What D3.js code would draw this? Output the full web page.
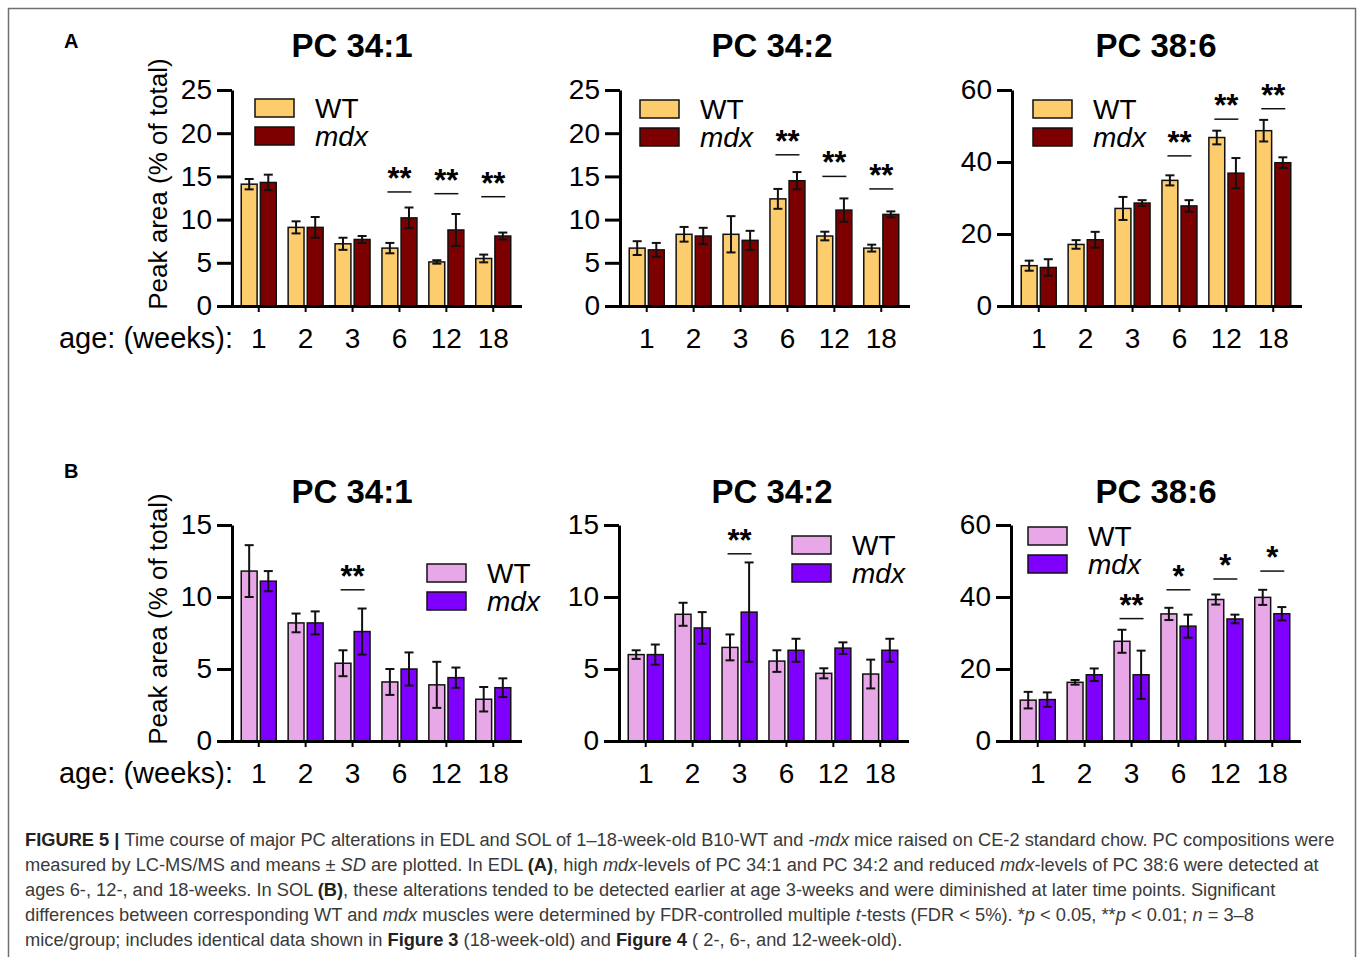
<!DOCTYPE html>
<html>
<head>
<meta charset="utf-8">
<script src="https://cdn.jsdelivr.net/npm/d3@7"></script>
<style>
body { margin: 0; background: #fff; }
svg text { font-family: "Liberation Sans", Arial, Helvetica, sans-serif; }
</style>
</head>
<body>
<svg id="fig" width="1357" height="957"></svg>
<script>
// age groups and genotypes
var ages = ["1", "2", "3", "6", "12", "18"];
var groups = ["WT", "mdx"];

// A: EDL, means and SD (% of total)
var edl341WT = [14.1, 9.1, 7.2, 6.7, 5.1, 5.5];
var edl341WTsd = [0.6, 0.7, 0.7, 0.6, 0.2, 0.45];
var edl341Mdx = [14.3, 9.1, 7.7, 10.2, 8.8, 8.1];
var edl341MdxSd = [0.9, 1.2, 0.4, 1.2, 1.85, 0.4];
var edl341Sig = [["6", "**", 13.2], ["12", "**", 13.0], ["18", "**", 12.65]];

var edl342WT = [6.7, 8.3, 8.3, 12.4, 8.1, 6.7];
var edl342WTsd = [0.8, 0.85, 2.1, 1.15, 0.5, 0.4];
var edl342Mdx = [6.5, 8.1, 7.6, 14.5, 11.1, 10.6];
var edl342MdxSd = [0.8, 0.95, 1.1, 1.0, 1.35, 0.35];
var edl342Sig = [["6", "**", 17.5], ["12", "**", 15.0], ["18", "**", 13.55]];

var edl386WT = [11.2, 17.1, 27.1, 34.9, 46.8, 48.7];
var edl386WTsd = [1.4, 1.2, 3.2, 1.4, 1.9, 3.0];
var edl386Mdx = [10.7, 18.4, 28.6, 27.8, 36.9, 39.8];
var edl386MdxSd = [2.3, 2.2, 0.8, 1.6, 4.2, 1.5];
var edl386Sig = [["6", "**", 41.7], ["12", "**", 51.9], ["18", "**", 54.8]];

// B: SOL
var sol341WT = [11.8, 8.2, 5.4, 4.1, 3.9, 2.9];
var sol341WTsd = [1.8, 0.65, 0.9, 0.9, 1.6, 0.85];
var sol341Mdx = [11.1, 8.2, 7.6, 5.0, 4.4, 3.7];
var sol341MdxSd = [0.7, 0.8, 1.6, 1.15, 0.7, 0.65];
var sol341Sig = [["3", "**", 10.5]];

var sol342WT = [6.0, 8.8, 6.5, 5.55, 4.7, 4.65];
var sol342WTsd = [0.3, 0.8, 0.9, 0.75, 0.35, 1.0];
var sol342Mdx = [6.0, 7.85, 8.95, 6.3, 6.45, 6.3];
var sol342MdxSd = [0.7, 1.1, 3.45, 0.8, 0.4, 0.8];
var sol342Sig = [["3", "**", 13.0]];

var sol386WT = [11.35, 16.3, 27.7, 35.3, 39.3, 39.9];
var sol386WTsd = [2.3, 0.65, 3.2, 1.7, 1.4, 2.1];
var sol386Mdx = [11.5, 18.4, 18.4, 31.9, 33.9, 35.35];
var sol386MdxSd = [2.0, 1.75, 6.7, 3.2, 1.2, 1.85];
var sol386Sig = [["3", "**", 34.0], ["6", "*", 42.0], ["12", "*", 45.0], ["18", "*", 47.2]];

var ticks25 = [0, 5, 10, 15, 20, 25];
var ticks15 = [0, 5, 10, 15];
var ticks60 = [0, 20, 40, 60];

var edlColors = ["#fdcc6c", "#7d0000"];
var solColors = ["#e8a8e8", "#8000ff"];

var width = 288, height = 216;
var svg = d3.select("#fig");

// frame
svg.append("rect")
    .attr("x", 8.5).attr("y", 8.5)
    .attr("width", 1347).attr("height", 980)
    .attr("fill", "none")
    .attr("stroke", "#707070")
    .attr("stroke-width", 1.5);

var panels = [
  {title: "PC 34:1", wt: edl341WT, wtSd: edl341WTsd, mdx: edl341Mdx, mdxSd: edl341MdxSd, sig: edl341Sig,
   yMax: 25, ticks: ticks25, colors: edlColors, left: 232, top: 90, titleX: 120, titleY: -33, legX: 23, legY: 9, first: true},
  {title: "PC 34:2", wt: edl342WT, wtSd: edl342WTsd, mdx: edl342Mdx, mdxSd: edl342MdxSd, sig: edl342Sig,
   yMax: 25, ticks: ticks25, colors: edlColors, left: 620, top: 90, titleX: 152, titleY: -33, legX: 20, legY: 10},
  {title: "PC 38:6", wt: edl386WT, wtSd: edl386WTsd, mdx: edl386Mdx, mdxSd: edl386MdxSd, sig: edl386Sig,
   yMax: 60, ticks: ticks60, colors: edlColors, left: 1012, top: 90, titleX: 144, titleY: -33, legX: 21, legY: 10},
  {title: "PC 34:1", wt: sol341WT, wtSd: sol341WTsd, mdx: sol341Mdx, mdxSd: sol341MdxSd, sig: sol341Sig,
   yMax: 15, ticks: ticks15, colors: solColors, left: 232, top: 525, titleX: 120, titleY: -22, legX: 195, legY: 39, first: true},
  {title: "PC 34:2", wt: sol342WT, wtSd: sol342WTsd, mdx: sol342Mdx, mdxSd: sol342MdxSd, sig: sol342Sig,
   yMax: 15, ticks: ticks15, colors: solColors, left: 619, top: 525, titleX: 153, titleY: -22, legX: 173, legY: 11},
  {title: "PC 38:6", wt: sol386WT, wtSd: sol386WTsd, mdx: sol386Mdx, mdxSd: sol386MdxSd, sig: sol386Sig,
   yMax: 60, ticks: ticks60, colors: solColors, left: 1011, top: 525, titleX: 145, titleY: -22, legX: 17, legY: 2}
];

panels.forEach(drawPanel);

// panel letters
svg.append("text").attr("x", 64).attr("y", 48).text("A")
    .style("font-size", "20px").style("font-weight", "bold");
svg.append("text").attr("x", 64).attr("y", 478).text("B")
    .style("font-size", "20px").style("font-weight", "bold");

function drawPanel(p)
{
  var g = svg.append("g")
      .attr("transform", "translate(" + p.left + "," + p.top + ")");

  var x = d3.scaleBand().domain(ages).range([0, width])
      .paddingInner(0).paddingOuter(0.07);
  var x1 = d3.scaleBand().domain(groups).range([-17.5, 17.5]).paddingInner(0.17);
  var y = d3.scaleLinear().domain([0, p.yMax]).range([height, 0]);
  var color = d3.scaleOrdinal().domain(groups).range(p.colors);

  var rows = [];
  ages.forEach(function(a, i) {
    rows.push({age: a, group: "WT", v: p.wt[i], sd: p.wtSd[i]});
    rows.push({age: a, group: "mdx", v: p.mdx[i], sd: p.mdxSd[i]});
  });

  function cx(d) { return x(d.age) + x.bandwidth() / 2; }

  // title
  g.append("text")
      .attr("x", p.titleX).attr("y", p.titleY)
      .attr("text-anchor", "middle")
      .style("font-size", "33px").style("font-weight", "bold")
      .text(p.title);

  // bars
  g.selectAll(".bar")
      .data(rows)
    .enter().append("rect")
      .attr("class", "bar")
      .attr("x", function(d) { return cx(d) + x1(d.group); })
      .attr("width", x1.bandwidth())
      .attr("y", function(d) { return y(d.v); })
      .attr("height", function(d) { return height - y(d.v); })
      .attr("fill", function(d) { return color(d.group); })
      .attr("stroke", "#111")
      .attr("stroke-width", 1.5);

  // error bars
  var err = g.selectAll(".err")
      .data(rows)
    .enter().append("g")
      .attr("class", "err")
      .attr("transform", function(d) {
        return "translate(" + (cx(d) + x1(d.group) + x1.bandwidth() / 2) + ",0)";
      });
  err.append("line")
      .attr("y1", function(d) { return y(d.v - d.sd); })
      .attr("y2", function(d) { return y(d.v + d.sd); })
      .attr("stroke", "#111").attr("stroke-width", 2);
  err.selectAll(".cap")
      .data(function(d) { return [d.v - d.sd, d.v + d.sd]; })
    .enter().append("line")
      .attr("class", "cap")
      .attr("x1", -4.5).attr("x2", 4.5)
      .attr("y1", function(v) { return y(v); })
      .attr("y2", function(v) { return y(v); })
      .attr("stroke", "#111").attr("stroke-width", 2);

  // y axis
  var yAxis = g.append("g")
      .call(d3.axisLeft(y).tickValues(p.ticks).tickSize(15).tickPadding(5).tickSizeOuter(0));
  yAxis.select(".domain").attr("stroke", "#000").attr("stroke-width", 3);
  yAxis.selectAll(".tick line").attr("stroke", "#000").attr("stroke-width", 3);
  yAxis.selectAll(".tick text").style("font-size", "28px").attr("fill", "#000");

  // x axis
  var xAxis = g.append("g")
      .attr("transform", "translate(0," + height + ")")
      .call(d3.axisBottom(x).tickSize(6).tickPadding(16).tickSizeOuter(0));
  xAxis.select(".domain").attr("stroke", "#000").attr("stroke-width", 3)
      .attr("stroke-linecap", "square");
  xAxis.selectAll(".tick line").attr("stroke", "#000").attr("stroke-width", 2);
  xAxis.selectAll(".tick text").style("font-size", "28px").attr("fill", "#000");

  // significance markers
  var sig = g.selectAll(".sig")
      .data(p.sig)
    .enter().append("g")
      .attr("class", "sig")
      .attr("transform", function(d) {
        return "translate(" + (x(d[0]) + x.bandwidth() / 2) + "," + y(d[2]) + ")";
      });
  sig.append("line")
      .attr("x1", -12).attr("x2", 12)
      .attr("stroke", "#111").attr("stroke-width", 1.5);
  sig.append("text")
      .attr("y", -3)
      .attr("text-anchor", "middle")
      .style("font-size", "31px").style("font-weight", "bold")
      .text(function(d) { return d[1]; });

  // legend
  var legend = g.selectAll(".legend")
      .data(groups)
    .enter().append("g")
      .attr("class", "legend")
      .attr("transform", function(d, i) {
        return "translate(" + p.legX + "," + (p.legY + i * 28) + ")";
      });
  legend.append("rect")
      .attr("width", 39).attr("height", 18)
      .attr("fill", color)
      .attr("stroke", "#111").attr("stroke-width", 1.5);
  legend.append("text")
      .attr("x", 60).attr("y", 19)
      .style("font-size", "28px")
      .style("font-style", function(d) { return d == "mdx" ? "italic" : null; })
      .text(function(d) { return d; });

  // axis titles only on first column
  if (p.first)
  {
    g.append("text")
        .attr("transform", "translate(-65," + (height / 2 - 14) + ") rotate(-90)")
        .attr("text-anchor", "middle")
        .style("font-size", "26px")
        .text("Peak area (% of total)");
    g.append("text")
        .attr("x", 1).attr("y", height + 42)
        .attr("text-anchor", "end")
        .style("font-size", "29px")
        .text("age: (weeks):");
  }
}

// caption lines: [style, text]
var captionLines = [
  [["b", "FIGURE 5 | "], ["", "Time course of major PC alterations in EDL and SOL of 1\u201318-week-old B10-WT and -"], ["i", "mdx"], ["", " mice raised on CE-2 standard chow. PC compositions were"]],
  [["", "measured by LC-MS/MS and means \u00b1 "], ["i", "SD"], ["", " are plotted. In EDL "], ["b", "(A)"], ["", ", high "], ["i", "mdx"], ["", "-levels of PC 34:1 and PC 34:2 and reduced "], ["i", "mdx"], ["", "-levels of PC 38:6 were detected at"]],
  [["", "ages 6-, 12-, and 18-weeks. In SOL "], ["b", "(B)"], ["", ", these alterations tended to be detected earlier at age 3-weeks and were diminished at later time points. Significant"]],
  [["", "differences between corresponding WT and "], ["i", "mdx"], ["", " muscles were determined by FDR-controlled multiple "], ["i", "t"], ["", "-tests (FDR < 5%). *"], ["i", "p"], ["", " < 0.05, **"], ["i", "p"], ["", " < 0.01; "], ["i", "n"], ["", " = 3\u20138"]],
  [["", "mice/group; includes identical data shown in "], ["b", "Figure 3"], ["", " (18-week-old) and "], ["b", "Figure 4"], ["", " ( 2-, 6-, and 12-week-old)."]]
];

var cap = svg.append("g");
captionLines.forEach(function(line, i) {
  var t = cap.append("text")
      .attr("x", 25).attr("y", 846 + i * 25)
      .style("font-size", "17px")
      .attr("fill", "#3a3a3a");
  line.forEach(function(seg) {
    t.append("tspan")
        .style("font-weight", seg[0] == "b" ? "bold" : null)
        .style("font-style", seg[0] == "i" ? "italic" : null)
        .attr("fill", seg[0] == "b" ? "#222" : null)
        .text(seg[1]);
  });
});
// fit first line to the caption width
var w = cap.select("text").node().getComputedTextLength();
cap.selectAll("text").style("font-size", (17 * 1310 / w) + "px");
</script>
</body>
</html>
